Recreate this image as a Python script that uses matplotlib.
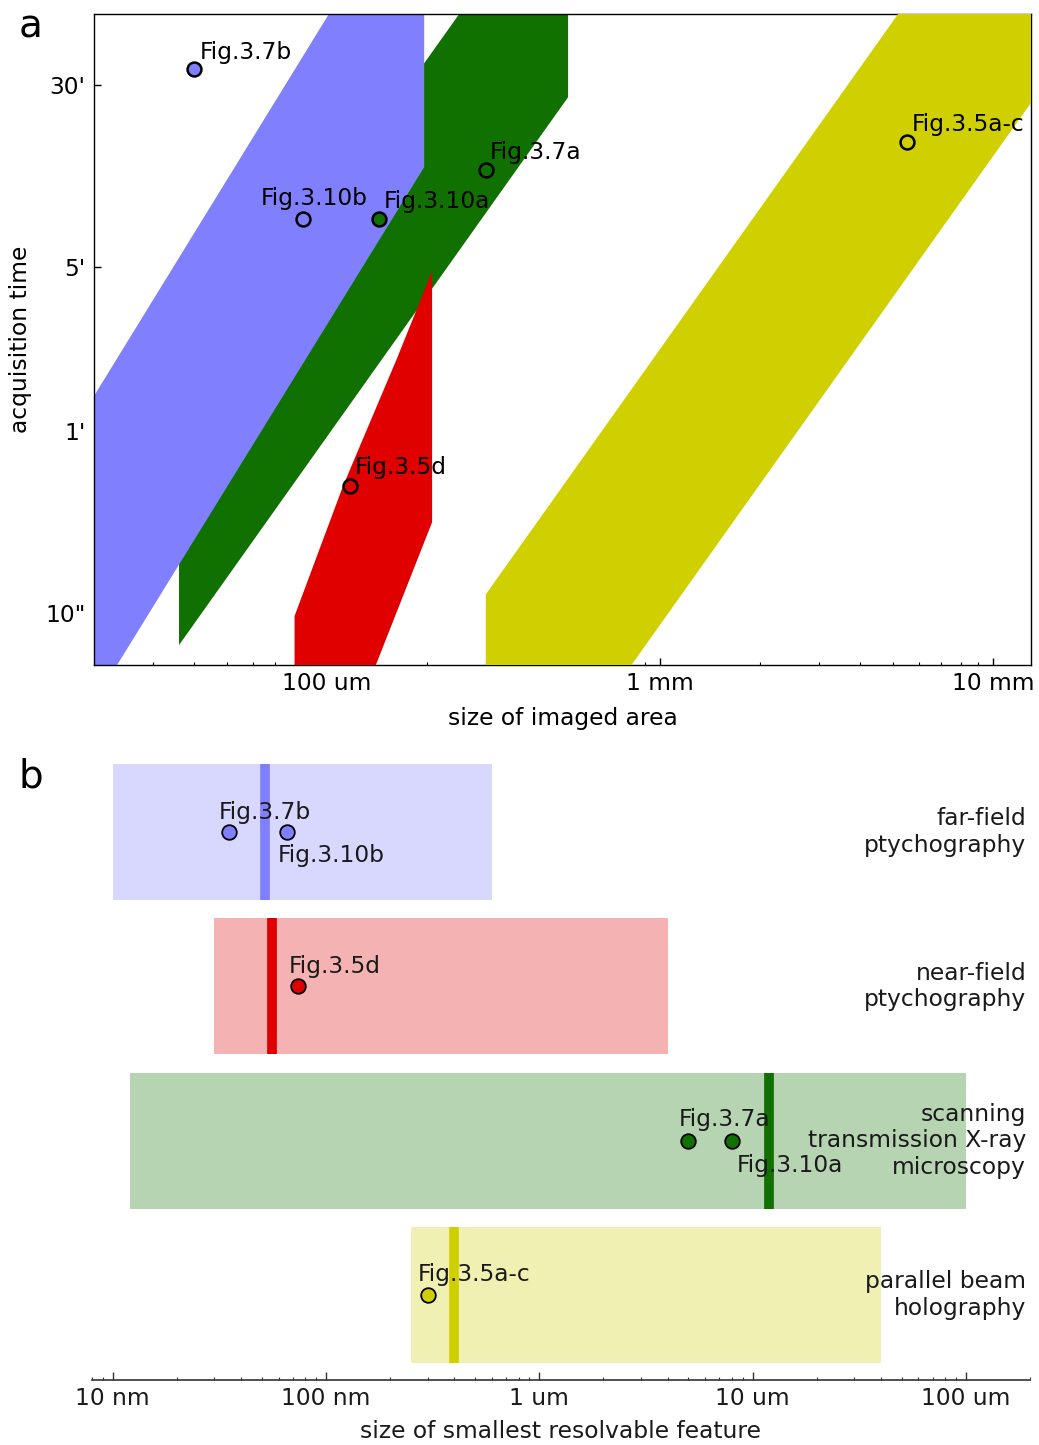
import matplotlib
matplotlib.use("Agg")
import matplotlib.pyplot as plt
import matplotlib.transforms as mtransforms
from matplotlib.ticker import FixedLocator, FixedFormatter, LogLocator, NullFormatter

# ── panel a: size of imaged area [um] vs acquisition time [s] ────────────────
blue_size = [10, 10, 196, 196]
blue_time = [0.84, 17, 16500, 800]
green_size = [36, 36, 530, 530]
green_time = [7.3, 75, 16200, 1590]
red_size = [80, 80, 112, 162, 207, 207, 137]
red_time = [5.5, 9.7, 35, 121, 287, 24.4, 5.5]
yellow_size = [300, 300, 20000, 20000]
yellow_time = [0.8, 12, 53600, 3560]

fig_names = ['Fig.3.7b', 'Fig.3.10b', 'Fig.3.10a', 'Fig.3.7a', 'Fig.3.5d', 'Fig.3.5a-c']
fig_area = [40, 85, 143, 300, 117, 5500]          # um
fig_time = [2100, 480, 480, 780, 35, 1020]        # s
fig_res = [35, 66, 8000, 5000, 74, 300]           # nm
fig_method = [0, 0, 2, 2, 1, 3]

# ── panel b: resolution range per method [nm] ────────────────────────────────
methods = ['far-field\nptychography', 'near-field\nptychography',
           'scanning\ntransmission X-ray\nmicroscopy', 'parallel beam\nholography']
res_lo = [10, 30, 12, 250]
res_hi = [600, 4000, 100000, 40000]
res_typ = [52, 56, 12000, 400]

a_xticks = [100, 1000, 10000]
a_xlabels = ['100 um', '1 mm', '10 mm']
a_yticks = [10, 60, 300, 1800]
a_ylabels = ['10"', "1'", "5'", "30'"]
b_xticks = [10, 100, 1000, 10000, 100000]
b_xlabels = ['10 nm', '100 nm', '1 um', '10 um', '100 um']

# ── styling ──────────────────────────────────────────────────────────────────
colors = ['#8080ff', '#e00000', '#107000', '#d0d000']   # by method index
FS = 16.8
TXT = '#1a1a1a'

# label offsets in pixels (dx, dy), alignment
a_offsets = {'Fig.3.7b': (5, 10), 'Fig.3.10b': (-43, 14), 'Fig.3.10a': (5, 11),
             'Fig.3.7a': (4, 11), 'Fig.3.5d': (5, 12), 'Fig.3.5a-c': (5, 11)}
b_offsets = {'Fig.3.7b': (-10, 13, 'baseline'), 'Fig.3.10b': (-10, -12, 'top'),
             'Fig.3.10a': (5, -13, 'top'), 'Fig.3.7a': (-10, 15, 'baseline'),
             'Fig.3.5d': (-9, 13, 'baseline'), 'Fig.3.5a-c': (-10, 14, 'baseline')}

plt.rcParams['font.family'] = ['DejaVu Sans']

fig = plt.figure(figsize=(10.39, 14.45), dpi=100)

# ── panel a ──────────────────────────────────────────────────────────────────
ax = fig.add_axes([94 / 1039, 1 - 665 / 1445, 937 / 1039, 651 / 1445])
ax.set_xscale('log')
ax.set_yscale('log')
ax.fill(green_size, green_time, color=colors[2], lw=0, zorder=1)
ax.fill(blue_size, blue_time, color=colors[0], lw=0, zorder=2)
ax.fill(red_size, red_time, color=colors[1], lw=0, zorder=3)
ax.fill(yellow_size, yellow_time, color=colors[3], lw=0, zorder=3)

for name, s, t, m in zip(fig_names, fig_area, fig_time, fig_method):
    ax.plot(s, t, 'o', ms=10, mfc=colors[m], mec='black', mew=1.8, zorder=5)
    dx, dy = a_offsets[name]
    ax.annotate(name, (s, t), xytext=(dx, dy), textcoords='offset pixels',
                ha='left', va='baseline', fontsize=FS, color='black', zorder=6)

ax.set_xlim(20, 13000)
ax.set_ylim(6, 3600)
ax.xaxis.set_major_locator(FixedLocator(a_xticks))
ax.xaxis.set_major_formatter(FixedFormatter(a_xlabels))
ax.xaxis.set_minor_locator(LogLocator(base=10, subs=range(2, 10), numticks=20))
ax.xaxis.set_minor_formatter(NullFormatter())
ax.yaxis.set_major_locator(FixedLocator(a_yticks))
ax.yaxis.set_major_formatter(FixedFormatter(a_ylabels))
ax.yaxis.set_minor_locator(FixedLocator([]))
ax.tick_params(which='both', direction='in', top=False, right=False, labelsize=FS)
ax.tick_params(which='major', length=5, width=1)
ax.tick_params(which='minor', length=2.5, width=0.8)
ax.tick_params(axis='x', pad=5)
ax.tick_params(axis='y', pad=6)
for sp in ax.spines.values():
    sp.set_linewidth(1.0)
ax.set_xlabel('size of imaged area', fontsize=FS, labelpad=9)
ax.set_ylabel('acquisition time', fontsize=FS, labelpad=9.5)

# ── panel b ──────────────────────────────────────────────────────────────────
bx = fig.add_axes([92 / 1039, 65 / 1445, 938 / 1039, 633 / 1445])
bx.set_xscale('log')
rows = [3 - i for i in range(len(methods))]
H = 0.88
for i, (lo, hi, typ) in enumerate(zip(res_lo, res_hi, res_typ)):
    y = rows[i]
    bx.fill_between([lo, hi], y - H / 2, y + H / 2, color=colors[i], alpha=0.3, lw=0, zorder=1)
    bx.vlines(typ, y - H / 2, y + H / 2, color=colors[i], lw=7, zorder=2)

for name, r, m in zip(fig_names, fig_res, fig_method):
    y = rows[m]
    bx.plot(r, y, 'o', ms=10.5, mfc=colors[m], mec='black', mew=1.3, zorder=5)
    dx, dy, va = b_offsets[name]
    bx.annotate(name, (r, y), xytext=(dx, dy), textcoords='offset pixels',
                ha='left', va=va, fontsize=FS, color=TXT, zorder=6)

trans = mtransforms.blended_transform_factory(bx.transAxes, bx.transData)
for i, lab in enumerate(methods):
    bx.text(0.996, rows[i], lab, transform=trans, ha='right', va='center',
            multialignment='right', fontsize=FS, color=TXT, zorder=7)

bx.set_xlim(8, 200000)
bx.set_ylim(-0.55, 3.55)
bx.xaxis.set_major_locator(FixedLocator(b_xticks))
bx.xaxis.set_major_formatter(FixedFormatter(b_xlabels))
bx.xaxis.set_minor_locator(LogLocator(base=10, subs=range(2, 10), numticks=20))
bx.xaxis.set_minor_formatter(NullFormatter())
bx.set_yticks([])
for side in ['left', 'top', 'right']:
    bx.spines[side].set_visible(False)
bx.spines['bottom'].set_linewidth(1.2)
bx.spines['bottom'].set_color('#333333')
bx.tick_params(which='both', direction='in', top=False, labelsize=FS, labelcolor=TXT,
               color='#333333')
bx.tick_params(which='major', length=5.5, width=1, pad=5)
bx.tick_params(which='minor', length=2.5, width=0.8)
bx.set_xlabel('size of smallest resolvable feature', fontsize=FS, color=TXT, labelpad=7)

# panel letters
fig.text(19 / 1039, 1 - 37 / 1445, 'a', fontsize=28, va='baseline', ha='left')
fig.text(19 / 1039, 1 - 787 / 1445, 'b', fontsize=28, va='baseline', ha='left')

fig.savefig('out.png', dpi=100)
